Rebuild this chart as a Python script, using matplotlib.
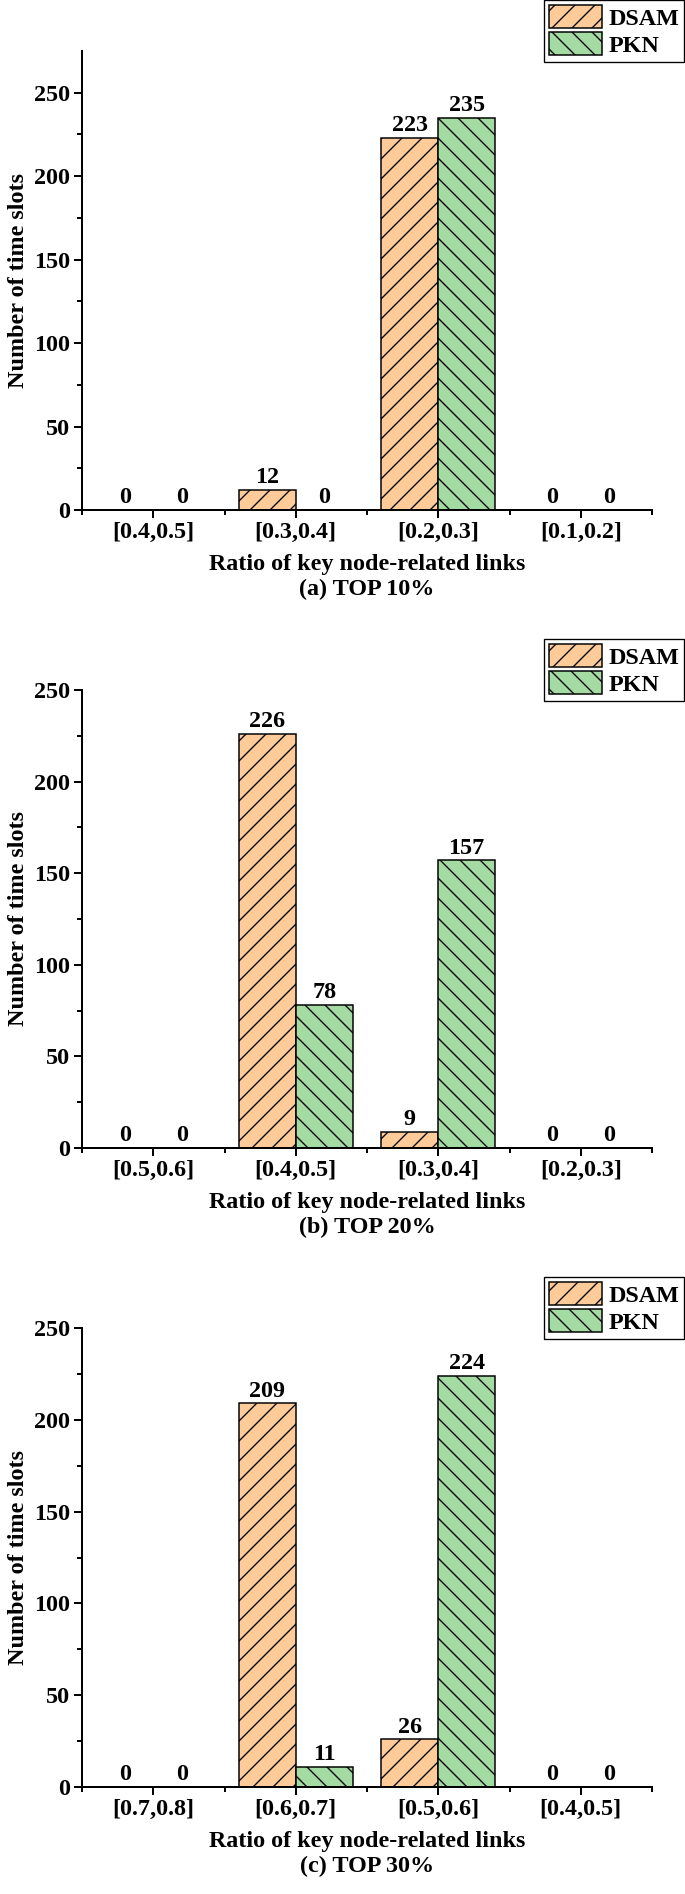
import numpy as np
import matplotlib
matplotlib.use("Agg")
import matplotlib.pyplot as plt

# data
cats_a = ['[0.4,0.5]', '[0.3,0.4]', '[0.2,0.3]', '[0.1,0.2]']
dsam_a = [0, 12, 223, 0]
pkn_a = [0, 0, 235, 0]

cats_b = ['[0.5,0.6]', '[0.4,0.5]', '[0.3,0.4]', '[0.2,0.3]']
dsam_b = [0, 226, 9, 0]
pkn_b = [0, 78, 157, 0]

cats_c = ['[0.7,0.8]', '[0.6,0.7]', '[0.5,0.6]', '[0.4,0.5]']
dsam_c = [0, 209, 26, 0]
pkn_c = [0, 11, 224, 0]

titles = ['(a) TOP 10%', '(b) TOP 20%', '(c) TOP 30%']
ytops = [275, 250, 250]

FS = 14.5
plt.rcParams['font.family'] = ['Liberation Serif', 'DejaVu Serif']
plt.rcParams['font.weight'] = 'bold'
plt.rcParams['font.size'] = FS
plt.rcParams['hatch.linewidth'] = 0.8
plt.rcParams['hatch.color'] = 'black'

W, H, DPI = 685, 1894, 120
fig = plt.figure(figsize=(W / DPI, H / DPI), dpi=DPI)

# axes boxes in pixels (top, bottom of plot area)
boxes = [(51, 510), (690, 1148), (1328, 1787)]
left, right = 82, 652

panels = [(cats_a, dsam_a, pkn_a), (cats_b, dsam_b, pkn_b), (cats_c, dsam_c, pkn_c)]

for i, (cats, dsam, pkn) in enumerate(panels):
    top, bot = boxes[i]
    ax = fig.add_axes([left / W, 1 - bot / H, (right - left) / W, (bot - top) / H])
    x = np.arange(len(cats))
    b1 = ax.bar(x - 0.2, dsam, 0.4, color='#FFCC99', edgecolor='black', linewidth=0.9,
                hatch='//', label='DSAM')
    b2 = ax.bar(x + 0.2, pkn, 0.4, color='#A3DBA3', edgecolor='black', linewidth=0.9,
                hatch='\\\\', label='PKN')
    ax.bar_label(b1, padding=1, fontweight='bold')
    ax.bar_label(b2, padding=1, fontweight='bold')

    ax.set_xlim(-0.5, 3.5)
    ax.set_ylim(0, ytops[i])
    ax.set_xticks(x)
    ax.set_xticklabels(cats)
    ax.set_xticks(np.arange(-0.5, 4, 1), minor=True)
    ax.set_yticks(np.arange(0, 251, 50))
    ax.set_yticks(np.arange(25, 251, 50), minor=True)
    ax.tick_params(which='major', direction='out', length=5, width=1.2, pad=2)
    ax.tick_params(which='minor', direction='out', length=3, width=1.2)
    ax.spines['top'].set_visible(False)
    ax.spines['right'].set_visible(False)
    ax.spines['left'].set_linewidth(1.2)
    ax.spines['bottom'].set_linewidth(1.2)

    ax.set_ylabel('Number of time slots', fontweight='bold', labelpad=3)
    ax.set_xlabel('Ratio of key node-related links\n' + titles[i], fontweight='bold',
                  linespacing=1.2, labelpad=7)

    leg_top = top - 51
    ax.legend(loc='upper right', bbox_to_anchor=(684 / W, 1 - leg_top / H),
              bbox_transform=fig.transFigure, borderaxespad=0, fancybox=False,
              edgecolor='black', framealpha=1, handlelength=2.2, handleheight=1.1,
              borderpad=0.2, labelspacing=0.1, handletextpad=0.25,
              prop={'weight': 'bold', 'size': FS})
    ax.get_legend().get_frame().set_linewidth(0.8)

fig.savefig('out.png', dpi=DPI)
